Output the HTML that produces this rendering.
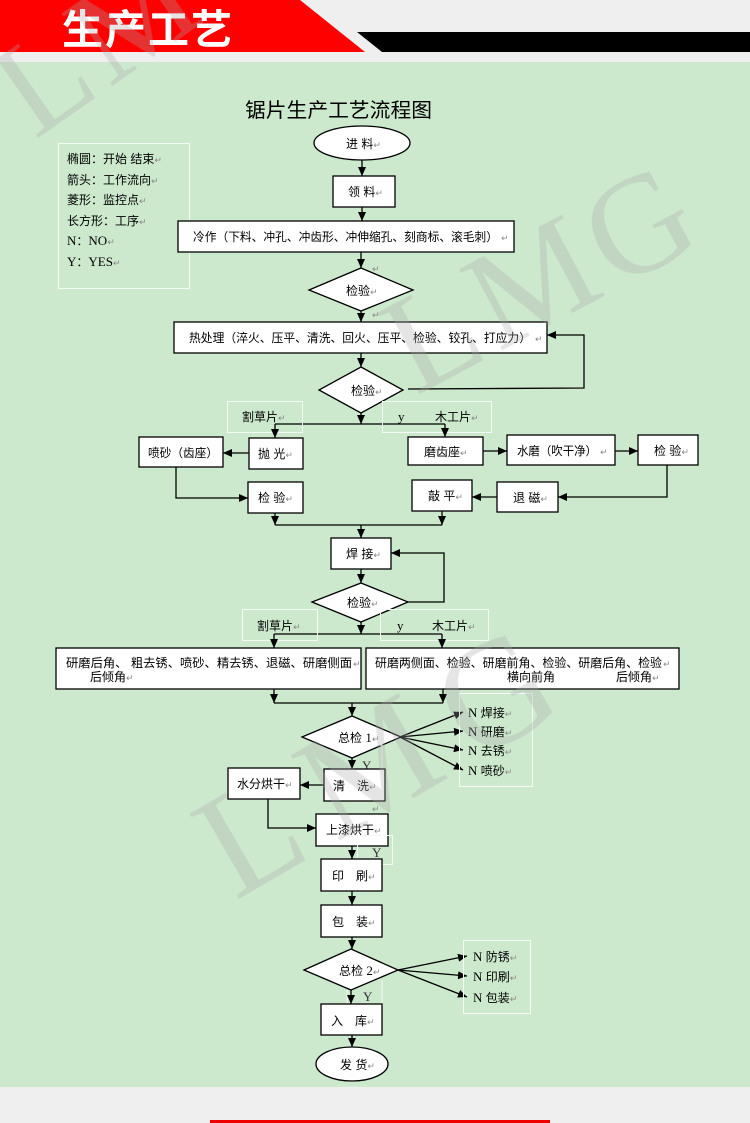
<!DOCTYPE html>
<html><head><meta charset="utf-8">
<style>
html,body{margin:0;padding:0;width:750px;height:1123px;overflow:hidden;background:#efefef;}
svg{display:block}
text{font-family:"Liberation Sans","Noto Sans CJK SC",sans-serif;font-size:12px;fill:#000}
.s{font-family:"Liberation Serif","Noto Serif CJK SC",serif;font-size:13px}
.r{fill:#888;font-size:9px;font-family:"DejaVu Sans",sans-serif}
.b{fill:#fff;stroke:#000;stroke-width:1.3}
.w{fill:none;stroke:#f4faf4;stroke-width:1}
.l{fill:none;stroke:#000;stroke-width:1.3}
.a{fill:none;stroke:#000;stroke-width:1.3;marker-end:url(#ah)}
.wm{font-family:"Liberation Serif",serif;fill:#a8a8a8}
</style></head><body>
<svg width="750" height="1123" viewBox="0 0 750 1123" xmlns="http://www.w3.org/2000/svg">
<defs><marker id="ah" markerUnits="userSpaceOnUse" markerWidth="10" markerHeight="8" refX="9" refY="4" orient="auto"><path d="M0,0 L9,4 L0,8 z" fill="#000"/></marker></defs>
<rect width="750" height="1123" fill="#efefef"/>
<rect x="0" y="62" width="750" height="1025" fill="#cce8cd"/>
<polygon points="0,0 300,0 365,52 0,52" fill="#ff0000"/>
<polygon points="357,32 750,32 750,52 382,52" fill="#000"/>
<text x="62" y="44" style="font-size:41px;font-weight:bold;fill:#fff;letter-spacing:2px">生产工艺</text>
<rect x="210" y="1120" width="340" height="3" fill="#e00"/>

<!-- title -->
<text x="245" y="117" style="font-size:20px" textLength="187" lengthAdjust="spacingAndGlyphs">锯片生产工艺流程图</text>

<!-- legend -->
<rect class="w" x="58.5" y="143.5" width="131" height="145"/>
<text x="67" y="163">椭圆：开始 结束<tspan class="r">↵</tspan></text>
<text x="67" y="184">箭头：工作流向<tspan class="r">↵</tspan></text>
<text x="67" y="204">菱形：监控点<tspan class="r">↵</tspan></text>
<text x="67" y="225">长方形：工序<tspan class="r">↵</tspan></text>
<text x="67" y="245"><tspan class="s">N</tspan>：<tspan class="s">NO</tspan><tspan class="r">↵</tspan></text>
<text x="67" y="266"><tspan class="s">Y</tspan>：<tspan class="s">YES</tspan><tspan class="r">↵</tspan></text>

<!-- 进料 -->
<ellipse class="b" cx="362" cy="143" rx="48" ry="17"/>
<text x="346" y="148">进 料<tspan class="r">↵</tspan></text>
<line class="a" x1="362" y1="160" x2="362" y2="176"/>
<rect class="b" x="333" y="176" width="62" height="31"/>
<text x="348" y="196">领 料<tspan class="r">↵</tspan></text>
<line class="a" x1="362" y1="207" x2="362" y2="221"/>
<rect class="b" x="178" y="221" width="336" height="31"/>
<text x="193" y="241" textLength="305" lengthAdjust="spacingAndGlyphs">冷作（下料、冲孔、冲齿形、冲伸缩孔、刻商标、滚毛刺）</text>
<text class="r" x="501" y="241">↵</text>
<line class="a" x1="361" y1="252" x2="361" y2="268"/>
<text class="r" x="372" y="272">↵</text>
<polygon class="b" points="361,268 413,290 361,311 309,290"/>
<text x="346" y="295">检验<tspan class="r">↵</tspan></text>
<line class="a" x1="361" y1="311" x2="361" y2="322"/>
<text class="r" x="372" y="318">↵</text>
<rect class="b" x="174" y="322" width="373" height="31"/>
<text x="189" y="342" textLength="342" lengthAdjust="spacingAndGlyphs">热处理（淬火、压平、清洗、回火、压平、检验、铰孔、打应力）</text>
<text class="r" x="535" y="342">↵</text>
<line class="a" x1="361" y1="353" x2="361" y2="367"/>
<polygon class="b" points="361,367 403,390 361,413 319,390"/>
<text x="351" y="395">检验<tspan class="r">↵</tspan></text>
<polyline class="a" points="408,389 584,388 584,335 547,335"/>
<line class="a" x1="361" y1="413" x2="361" y2="424"/>
<line class="l" x1="275" y1="424" x2="445" y2="424"/>
<rect class="w" x="227.5" y="401.5" width="75" height="31"/>
<rect class="w" x="382.5" y="401.5" width="109" height="31"/>
<text x="242" y="421">割草片<tspan class="r">↵</tspan></text>
<text class="s" x="398" y="421">y</text>
<text x="435" y="421">木工片<tspan class="r">↵</tspan></text>
<line class="a" x1="275" y1="424" x2="275" y2="438"/>
<line class="a" x1="445" y1="424" x2="445" y2="437"/>

<!-- left branch -->
<rect class="b" x="249" y="438" width="54" height="31"/>
<text x="258" y="458">抛 光<tspan class="r">↵</tspan></text>
<line class="a" x1="249" y1="453" x2="223" y2="453"/>
<rect class="b" x="139" y="437" width="84" height="30"/>
<text x="148" y="457" textLength="70" lengthAdjust="spacingAndGlyphs">喷砂（齿座）</text>
<polyline class="a" points="176,467 176,498 248,498"/>
<rect class="b" x="248" y="482" width="55" height="31"/>
<text x="258" y="502">检 验<tspan class="r">↵</tspan></text>

<!-- right branch -->
<rect class="b" x="408" y="437" width="75" height="28"/>
<text x="424" y="456">磨齿座<tspan class="r">↵</tspan></text>
<line class="a" x1="483" y1="451" x2="507" y2="451"/>
<rect class="b" x="507" y="435" width="108" height="30"/>
<text x="517" y="455" textLength="80" lengthAdjust="spacingAndGlyphs">水磨（吹干净）</text>
<text class="r" x="600" y="455">↵</text>
<line class="a" x1="615" y1="451" x2="638" y2="451"/>
<rect class="b" x="638" y="435" width="60" height="30"/>
<text x="654" y="455">检 验<tspan class="r">↵</tspan></text>
<polyline class="a" points="667,465 667,497 558,497"/>
<rect class="b" x="497" y="482" width="61" height="30"/>
<text x="513" y="502">退 磁<tspan class="r">↵</tspan></text>
<line class="a" x1="497" y1="497" x2="472" y2="497"/>
<rect class="b" x="412" y="480" width="60" height="31"/>
<text x="428" y="500">敲 平<tspan class="r">↵</tspan></text>

<line class="a" x1="275" y1="513" x2="275" y2="525"/>
<line class="a" x1="442" y1="511" x2="442" y2="525"/>
<line class="l" x1="275" y1="525" x2="442" y2="525"/>
<line class="a" x1="361" y1="525" x2="361" y2="538"/>

<!-- 焊接 -->
<rect class="b" x="331" y="538" width="60" height="31"/>
<text x="346" y="558">焊 接<tspan class="r">↵</tspan></text>
<line class="a" x1="361" y1="569" x2="361" y2="583"/>
<polygon class="b" points="361,583 408,602 361,622 312,602"/>
<text x="347" y="607">检验<tspan class="r">↵</tspan></text>
<polyline class="a" points="408,602 444,602 444,553 391,553"/>
<line class="a" x1="361" y1="622" x2="361" y2="634"/>
<line class="l" x1="274" y1="634" x2="442" y2="634"/>
<rect class="w" x="242.5" y="609.5" width="75" height="31"/>
<rect class="w" x="380.5" y="609.5" width="108" height="31"/>
<text x="257" y="630">割草片<tspan class="r">↵</tspan></text>
<text class="s" x="397" y="630">y</text>
<text x="432" y="630">木工片<tspan class="r">↵</tspan></text>
<line class="a" x1="274" y1="634" x2="274" y2="648"/>
<line class="a" x1="442" y1="634" x2="442" y2="648"/>

<!-- big boxes -->
<rect class="b" x="56" y="648" width="305" height="41"/>
<text x="66" y="667" textLength="286" lengthAdjust="spacingAndGlyphs">研磨后角、  粗去锈、喷砂、精去锈、退磁、研磨侧面</text>
<text class="r" x="353" y="667">↵</text>
<text x="90" y="681">后倾角<tspan class="r">↵</tspan></text>
<rect class="b" x="366" y="648" width="313" height="41"/>
<text x="375" y="667" textLength="287" lengthAdjust="spacingAndGlyphs">研磨两侧面、检验、研磨前角、检验、研磨后角、检验</text>
<text class="r" x="663" y="667">↵</text>
<text x="507" y="681">横向前角</text>
<text x="616" y="681">后倾角<tspan class="r">↵</tspan></text>

<line class="a" x1="274" y1="689" x2="274" y2="703"/>
<line class="a" x1="443" y1="689" x2="443" y2="703"/>
<line class="l" x1="274" y1="703" x2="443" y2="703"/>
<line class="a" x1="352" y1="703" x2="352" y2="716"/>

<!-- 总检1 -->
<polygon class="b" points="352,716 401,737 352,758 302,737"/>
<text x="338" y="742">总检 <tspan class="s">1</tspan><tspan class="r">↵</tspan></text>
<line class="a" x1="400" y1="737" x2="463" y2="712"/>
<line class="a" x1="400" y1="737" x2="463" y2="731"/>
<line class="a" x1="400" y1="737" x2="463" y2="750"/>
<line class="a" x1="400" y1="737" x2="463" y2="770"/>
<rect class="w" x="459.5" y="693.5" width="73" height="93"/>
<text x="468" y="717"><tspan class="s">N</tspan> 焊接<tspan class="r">↵</tspan></text>
<text x="468" y="736"><tspan class="s">N</tspan> 研磨<tspan class="r">↵</tspan></text>
<text x="468" y="755"><tspan class="s">N</tspan> 去锈<tspan class="r">↵</tspan></text>
<text x="468" y="775"><tspan class="s">N</tspan> 喷砂<tspan class="r">↵</tspan></text>
<line class="a" x1="352" y1="758" x2="352" y2="769"/>
<polyline class="w" points="375,745 382,745 382,769"/>
<text class="s" x="362" y="770" style="fill:#333">Y</text>

<!-- 清洗 -->
<rect class="b" x="324" y="769" width="61" height="32"/>
<text x="333" y="790">清</text>
<text x="357" y="790">洗<tspan class="r">↵</tspan></text>
<line class="a" x1="324" y1="785" x2="300" y2="785"/>
<rect class="b" x="228" y="768" width="72" height="31"/>
<text x="237" y="788">水分烘干<tspan class="r">↵</tspan></text>
<polyline class="a" points="268,799 268,828 316,828"/>
<text class="r" x="372" y="812">↵</text>
<rect class="b" x="316" y="814" width="72" height="32"/>
<text x="326" y="834">上漆烘干<tspan class="r">↵</tspan></text>
<rect class="w" x="357.5" y="835.5" width="35" height="29"/>
<line class="a" x1="352" y1="846" x2="352" y2="859"/>
<text class="s" x="372" y="857" style="fill:#333">Y</text>

<!-- 印刷 包装 -->
<rect class="b" x="321" y="859" width="61" height="32"/>
<text x="332" y="880">印</text>
<text x="356" y="880">刷<tspan class="r">↵</tspan></text>
<line class="a" x1="352" y1="891" x2="352" y2="905"/>
<rect class="b" x="321" y="905" width="61" height="32"/>
<text x="332" y="926">包</text>
<text x="356" y="926">装<tspan class="r">↵</tspan></text>
<line class="a" x1="352" y1="937" x2="352" y2="949"/>

<!-- 总检2 -->
<polygon class="b" points="351,949 398,970 351,990 304,970"/>
<text x="339" y="975">总检 <tspan class="s">2</tspan><tspan class="r">↵</tspan></text>
<line class="a" x1="398" y1="970" x2="467" y2="956"/>
<line class="a" x1="398" y1="970" x2="467" y2="976"/>
<line class="a" x1="398" y1="970" x2="467" y2="997"/>
<rect class="w" x="463.5" y="940.5" width="67" height="73"/>
<text x="473" y="961"><tspan class="s">N</tspan> 防锈<tspan class="r">↵</tspan></text>
<text x="473" y="981"><tspan class="s">N</tspan> 印刷<tspan class="r">↵</tspan></text>
<text x="473" y="1002"><tspan class="s">N</tspan> 包装<tspan class="r">↵</tspan></text>
<line class="w" x1="347" y1="990" x2="347" y2="1004"/>
<line class="w" x1="382" y1="980" x2="382" y2="1004"/>
<line class="a" x1="351" y1="990" x2="351" y2="1004"/>
<text class="s" x="363" y="1001" style="fill:#333">Y</text>

<!-- 入库 发货 -->
<rect class="b" x="321" y="1004" width="61" height="31"/>
<text x="331" y="1025">入</text>
<text x="355" y="1025">库<tspan class="r">↵</tspan></text>
<line class="a" x1="352" y1="1035" x2="352" y2="1047"/>
<ellipse class="b" cx="352" cy="1064" rx="36" ry="17"/>
<text x="340" y="1069">发 货<tspan class="r">↵</tspan></text>

<!-- watermarks -->
<g opacity="0.3">
<text class="wm" transform="translate(35,140) rotate(-35)" style="font-size:135px;letter-spacing:8px">LMG</text>
<text class="wm" transform="translate(416,396) rotate(-28)" style="font-size:140px;letter-spacing:8px">LMG</text>
<text class="wm" transform="translate(235,901) rotate(-30)" style="font-size:150px;letter-spacing:25px">LMG</text>
</g>
</svg>
</body></html>
